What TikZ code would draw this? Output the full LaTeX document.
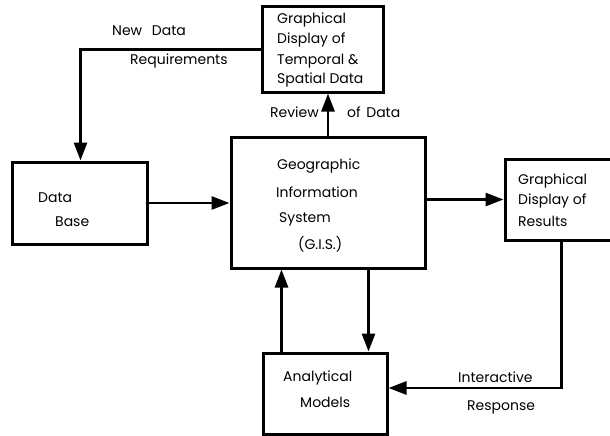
\documentclass[tikz,border=0pt]{standalone}
\usepackage{fontspec}
\setmainfont{Poppins}
\usetikzlibrary{arrows.meta}
\begin{document}
\begin{tikzpicture}[x=1pt,y=-1pt,
  box/.style={draw,line width=3pt,minimum width=#1,inner sep=0pt},
  flow/.style={line width=2.8pt,-{Triangle[length=18pt,width=13pt]}},
  txt/.style={anchor=base west,inner sep=0pt,font=\fontsize{14}{16}\selectfont}]
\useasboundingbox (0,0) rectangle (610,436);
% blocks
\node[box=121pt,minimum height=85pt] (disp) at (322.5,49.5) {};
\node[box=135pt,minimum height=82pt] (db) at (79.5,203) {};
\node[box=194pt,minimum height=131pt] (gis) at (328,202.5) {};
\node[box=115pt,minimum height=81pt] (res) at (562.5,199.5) {};
\node[box=124pt,minimum height=81pt] (mod) at (325,393.5) {};
% block texts
\node[txt] (t1) at (277,24) {Graphical};
\node[txt] (t2) at (277,44) {Display of};
\node[txt] (t3) at (277,64) {Temporal \&};
\node[txt] (t4) at (277,84) {Spatial Data};
\node[txt] (d1) at (38,202) {Data};
\node[txt] (d2) at (55,226) {Base};
\node[txt] (g1) at (277,169) {Geographic};
\node[txt] (g2) at (276,197) {Information};
\node[txt] (g3) at (279,222) {System};
\node[txt] (g4) at (298,249) {(G.I.S.)};
\node[txt] (r1) at (518,184) {Graphical};
\node[txt] (r2) at (518,204) {Display of};
\node[txt] (r3) at (518,226) {Results};
\node[txt] (m1) at (283,381) {Analytical};
\node[txt] (m2) at (300,407) {Models};
% connector labels
\node[txt] (l1) at (112,36) {New\hspace{0.7em}Data};
\node[txt] (l2) at (130,65) {Requirements};
\node[txt] (l3) at (270,117) {Review};
\node[txt] (l4) at (347,117) {of\hspace{0.4em}Data};
\node[txt] (l5) at (458,382) {Interactive};
\node[txt] (l6) at (467,410) {Response};
% connectors
\coordinate (dbin) at ([xshift=70pt]db.north west);
\draw[flow] (disp.west) -| (dbin);
\draw[flow] (gis.north) -- (gis.north |- disp.south);
\draw[flow] (db.east) -- (db.east -| gis.west);
\draw[flow] (gis.east |- res.west) -- (res.west);
\coordinate (mup) at ([xshift=20pt]mod.north west);
\draw[flow] (mup) -- (mup |- gis.south);
\coordinate (mdn) at ([xshift=-20pt]mod.north east);
\draw[flow] (mdn |- gis.south) -- (mdn);
\coordinate (rout) at ([xshift=58pt]res.south west);
\coordinate (turn) at (rout |- 0,388);
\draw[flow] (rout) -- (turn) -- (turn -| mod.east);
\end{tikzpicture}
\end{document}
